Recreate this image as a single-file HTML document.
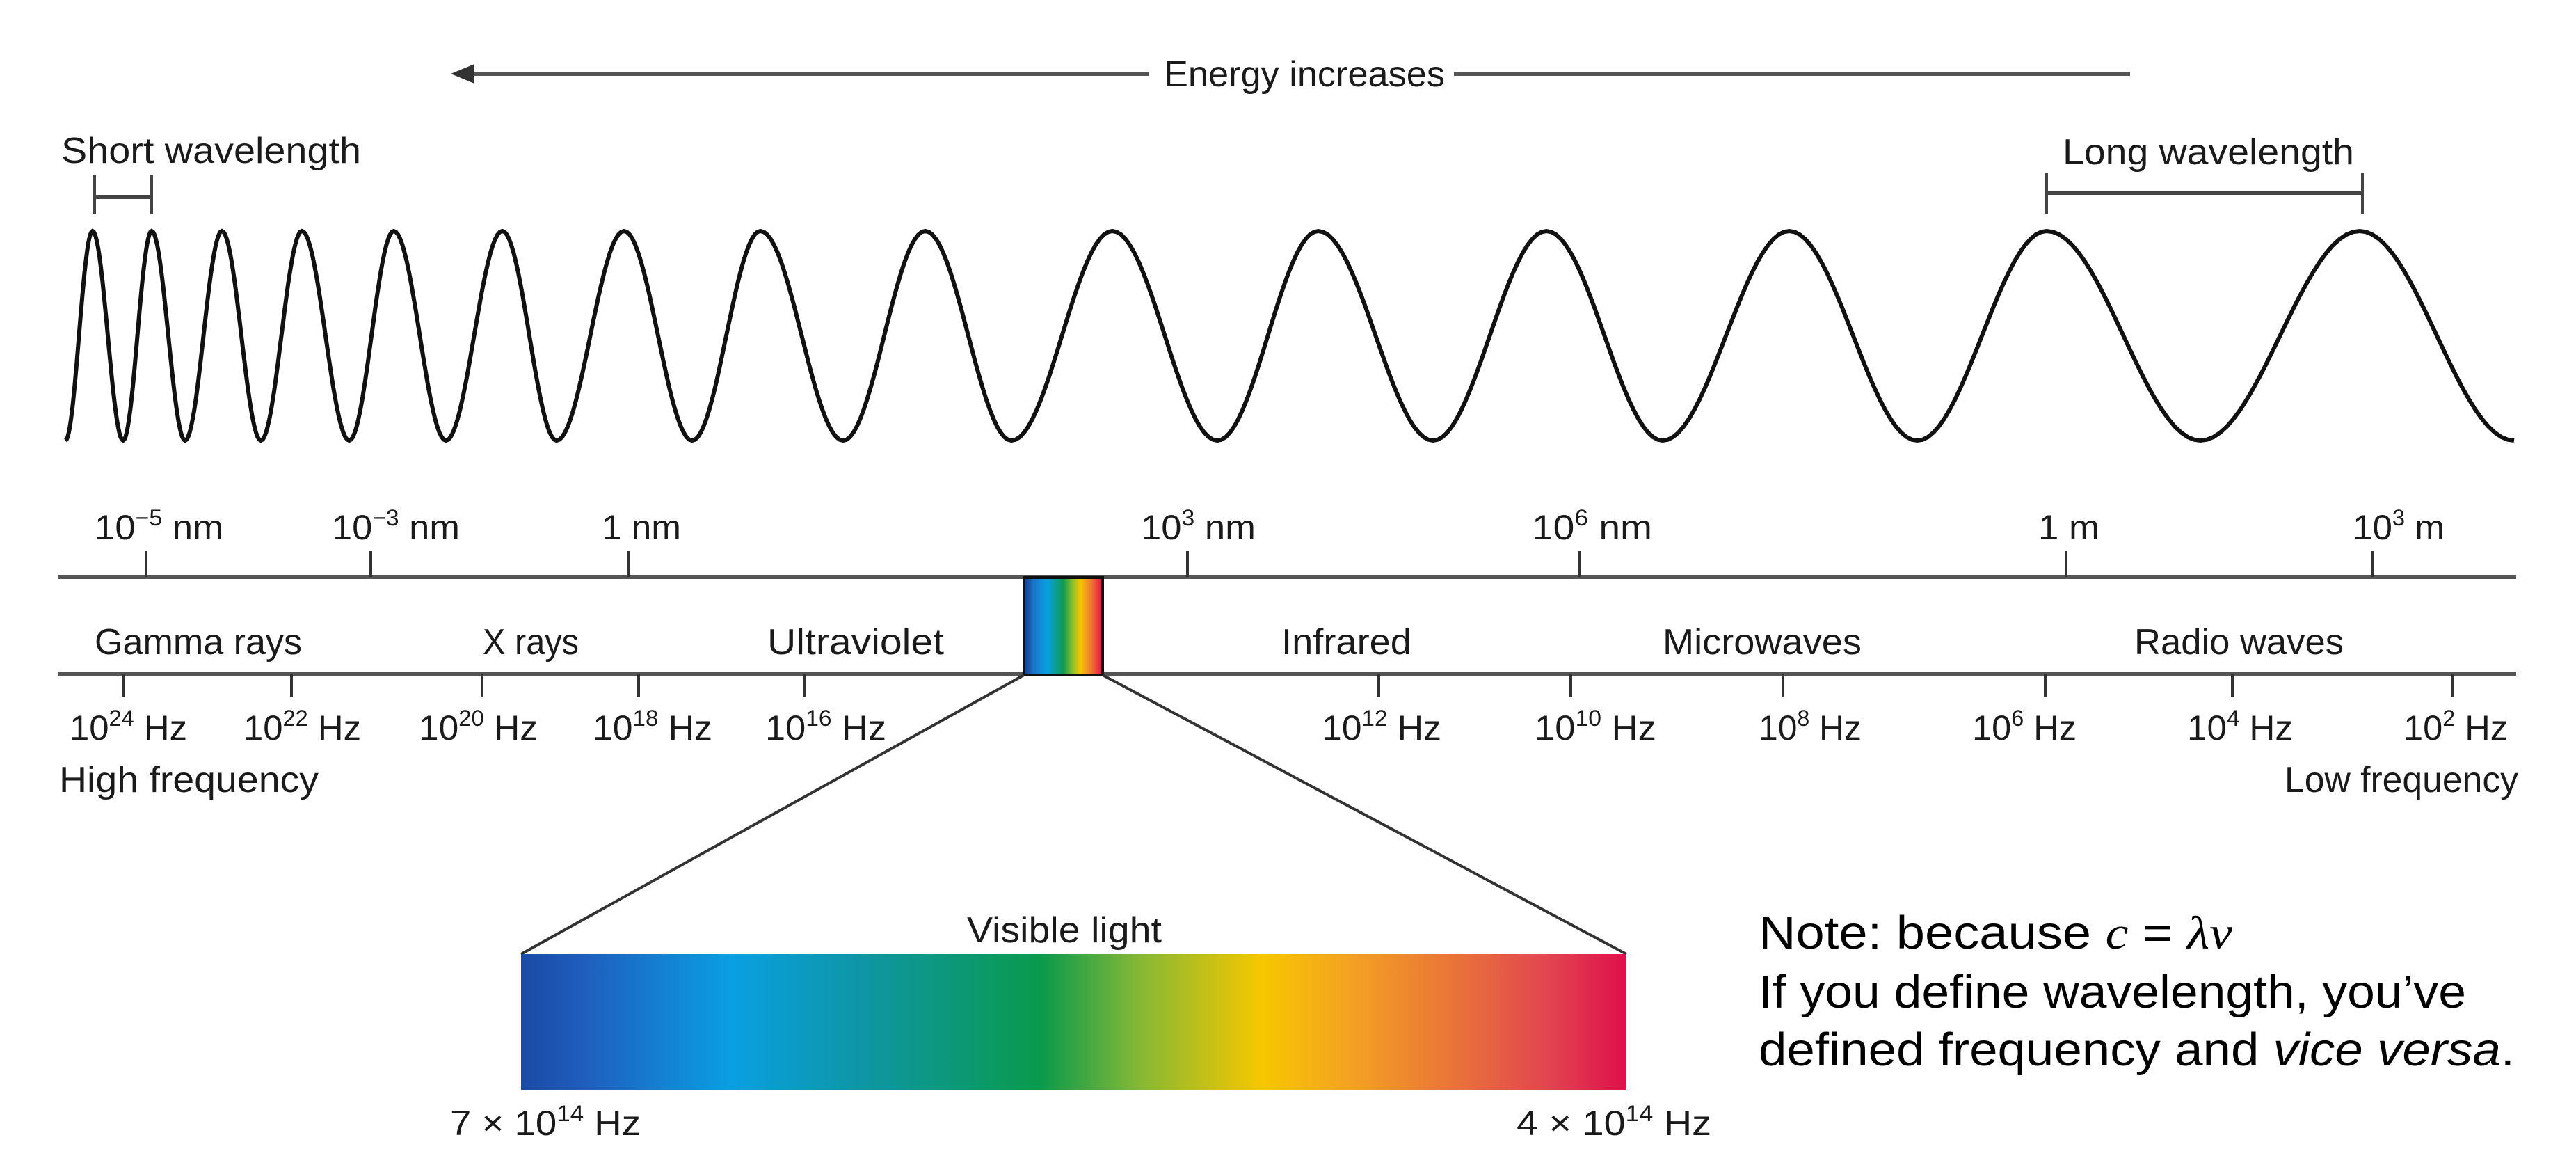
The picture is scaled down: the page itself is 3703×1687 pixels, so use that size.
<!DOCTYPE html>
<html><head><meta charset="utf-8"><style>
html,body{margin:0;padding:0;background:#fff;}
svg{display:block;}
.t{font-family:"Liberation Sans",sans-serif;fill:#1a1a1a;}
.n{font-family:"Liberation Sans",sans-serif;fill:#000;font-size:67px;}
</style></head><body>
<svg id="chart" width="3703" height="1687" viewBox="0 0 3703 1687" xmlns="http://www.w3.org/2000/svg">
<defs>
<linearGradient id="vis" x1="0" x2="1" y1="0" y2="0">
<stop offset="0" stop-color="#1b4aa6"/><stop offset="0.06" stop-color="#1f5fbe"/>
<stop offset="0.19" stop-color="#0a9fe2"/><stop offset="0.31" stop-color="#0e96a4"/>
<stop offset="0.47" stop-color="#0a9a4c"/><stop offset="0.56" stop-color="#86b834"/>
<stop offset="0.67" stop-color="#f6c700"/><stop offset="0.75" stop-color="#f3a222"/>
<stop offset="0.85" stop-color="#e8703a"/><stop offset="0.93" stop-color="#e24450"/>
<stop offset="1" stop-color="#df0f4b"/>
</linearGradient>
<linearGradient id="mini" x1="0" x2="1" y1="0" y2="0">
<stop offset="0" stop-color="#0c3c86"/><stop offset="0.12" stop-color="#1b74c8"/>
<stop offset="0.3" stop-color="#0aa0e2"/><stop offset="0.5" stop-color="#0f9a50"/>
<stop offset="0.62" stop-color="#8cc030"/><stop offset="0.72" stop-color="#f6c700"/>
<stop offset="0.85" stop-color="#f07a30"/><stop offset="1" stop-color="#df0f4b"/>
</linearGradient>
</defs>

<g>
<line x1="665" y1="106" x2="1652" y2="106" stroke="#555" stroke-width="6"/>
<polygon points="648,106 682,92 682,120" fill="#333"/>
<line x1="2090" y1="106" x2="3062" y2="106" stroke="#555" stroke-width="6"/>
</g>
<text class="t" x="1673" y="124" font-size="52" textLength="404" lengthAdjust="spacingAndGlyphs">Energy increases</text>

<text class="t" x="88" y="234" font-size="52" textLength="431" lengthAdjust="spacingAndGlyphs">Short wavelength</text>
<g stroke="#444" stroke-width="4">
<line x1="136" y1="283" x2="218" y2="283" stroke-width="6"/><line x1="136" y1="252" x2="136" y2="308"/><line x1="218" y1="252" x2="218" y2="308"/>
</g>
<text class="t" x="2965" y="236" font-size="52" textLength="419" lengthAdjust="spacingAndGlyphs">Long wavelength</text>
<g stroke="#444" stroke-width="4">
<line x1="2942" y1="277" x2="3396" y2="277" stroke-width="6"/><line x1="2942" y1="248" x2="2942" y2="308"/><line x1="3396" y1="248" x2="3396" y2="308"/>
</g>

<path id="wave" fill="none" stroke="#111" stroke-width="6"/>

<line x1="83" y1="829" x2="3617" y2="829" stroke="#555" stroke-width="6"/>
<line x1="83" y1="968" x2="3617" y2="968" stroke="#555" stroke-width="6"/>
<g id="wlTicks"></g>
<g id="hzTicks"></g>
<g id="bands"></g>

<text class="t" x="85" y="1138" font-size="52" textLength="373" lengthAdjust="spacingAndGlyphs">High frequency</text>
<text class="t" x="3284" y="1138" font-size="52" textLength="336" lengthAdjust="spacingAndGlyphs">Low frequency</text>

<rect x="1472" y="830" width="113" height="140" fill="url(#mini)" stroke="#111" stroke-width="4"/>
<line x1="1472" y1="970" x2="749" y2="1371" stroke="#333" stroke-width="4"/>
<line x1="1585" y1="970" x2="2338" y2="1371" stroke="#333" stroke-width="4"/>
<rect x="749" y="1371" width="1589" height="196" fill="url(#vis)"/>
<text class="t" x="1390" y="1354" font-size="52" textLength="280" lengthAdjust="spacingAndGlyphs">Visible light</text>
<text class="t" x="647" y="1631" font-size="50" textLength="274" lengthAdjust="spacingAndGlyphs">7 × 10<tspan font-size="32" dy="-20">14</tspan><tspan dy="20"> Hz</tspan></text>
<text class="t" x="2180" y="1631" font-size="50" textLength="280" lengthAdjust="spacingAndGlyphs">4 × 10<tspan font-size="32" dy="-20">14</tspan><tspan dy="20"> Hz</tspan></text>

<g>
<text class="n" x="2528" y="1363" textLength="681" lengthAdjust="spacingAndGlyphs">Note: because <tspan font-family="Liberation Serif" font-style="italic">c</tspan> = <tspan font-family="Liberation Serif" font-style="italic">λν</tspan></text>
<text class="n" x="2528" y="1448" textLength="1017" lengthAdjust="spacingAndGlyphs">If you define wavelength, you’ve</text>
<text class="n" x="2528" y="1531" textLength="1087" lengthAdjust="spacingAndGlyphs">defined frequency and <tspan font-style="italic">vice versa</tspan>.</text>
</g>
</svg>
<script>
const waveX = [94,133,177,218,266,319,375,434,502,566,641,722,800,897,995,1093,1212,1330,1454,1599,1750,1895,2060,2223,2390,2572,2756,2942,3163,3392,3614];
const waveKind = [0,1,0,1,0,1,0,1,0,1,0,1,0,1,0,1,0,1,0,1,0,1,0,1,0,1,0,1,0,1,0];
const wlLabels = [["10","−5"," nm"],["10","−3"," nm"],["1","", " nm"],["10","3"," nm"],["10","6"," nm"],["1",""," m"],["10","3"," m"]];
const wlTickX = [210,533,903,1707,2270,2970,3410];
const wlLabelX = [136,477,865,1640,2202,2930,3382];
const wlLabelW = [185,184,114,165,173,88,132];
const hzExp = ["24","22","20","18","16","12","10","8","6","4","2"];
const hzTickX = [177,419,693,918,1156,1982,2258,2563,2940,3209,3526];
const hzLabelX = [100,350,602,852,1100,1900,2206,2528,2835,3144,3455];
const hzLabelW = [169,169,171,172,174,172,175,148,150,152,150];
const bandNames = ["Gamma rays","X rays","Ultraviolet","Infrared","Microwaves","Radio waves"];
const bandX = [136,694,1103,1842,2390,3068];
const bandW = [298,138,254,187,286,301];

const NS = "http://www.w3.org/2000/svg";
const yPeak = 332, yTrough = 633;
let d = "";
for (let i = 0; i < waveX.length - 1; i++) {
  const x0 = waveX[i], x1 = waveX[i+1];
  const y0 = waveKind[i] ? yPeak : yTrough, y1 = waveKind[i+1] ? yPeak : yTrough;
  for (let s = 0; s <= 24; s++) {
    const t = s / 24;
    const x = x0 + (x1 - x0) * t;
    const y = y0 + (y1 - y0) * (1 - Math.cos(Math.PI * t)) / 2;
    d += (i === 0 && s === 0 ? "M" : "L") + x.toFixed(1) + " " + y.toFixed(1);
  }
}
document.getElementById("wave").setAttribute("d", d);

function mk(tag, attrs, parent) {
  const e = document.createElementNS(NS, tag);
  for (const k in attrs) e.setAttribute(k, attrs[k]);
  parent.appendChild(e);
  return e;
}
const wlG = document.getElementById("wlTicks");
wlTickX.forEach((x, i) => {
  const ln = mk("line", {x1:x, y1:792, x2:x, y2:829, stroke:"#333", "stroke-width":4}, wlG);
  
  
  const tx = mk("text", {class:"t", x:wlLabelX[i], y:775, "font-size":50, textLength:wlLabelW[i], lengthAdjust:"spacingAndGlyphs"}, wlG);
  
  
  const l = wlLabels[i];
  tx.appendChild(document.createTextNode(l[0]));
  if (l[1]) {
    const s1 = mk("tspan", {"font-size":32, dy:-20}, tx); s1.textContent = l[1];
    const s2 = mk("tspan", {dy:20}, tx); s2.textContent = l[2];
  } else tx.appendChild(document.createTextNode(l[2]));
});
const hzG = document.getElementById("hzTicks");
hzTickX.forEach((x, i) => {
  const ln = mk("line", {x1:x, y1:968, x2:x, y2:1002, stroke:"#333", "stroke-width":4}, hzG);
  
  
  const tx = mk("text", {class:"t", x:hzLabelX[i], y:1063, "font-size":50, textLength:hzLabelW[i], lengthAdjust:"spacingAndGlyphs"}, hzG);
  
  
  tx.appendChild(document.createTextNode("10"));
  const s1 = mk("tspan", {"font-size":32, dy:-20}, tx); s1.textContent = hzExp[i];
  const s2 = mk("tspan", {dy:20}, tx); s2.textContent = " Hz";
});
const bG = document.getElementById("bands");
bandNames.forEach((n, i) => {
  const tx = mk("text", {class:"t", x:bandX[i], y:940, "font-size":52, textLength:bandW[i], lengthAdjust:"spacingAndGlyphs"}, bG);
  
  
  tx.textContent = n;
});
</script>
</body></html>
